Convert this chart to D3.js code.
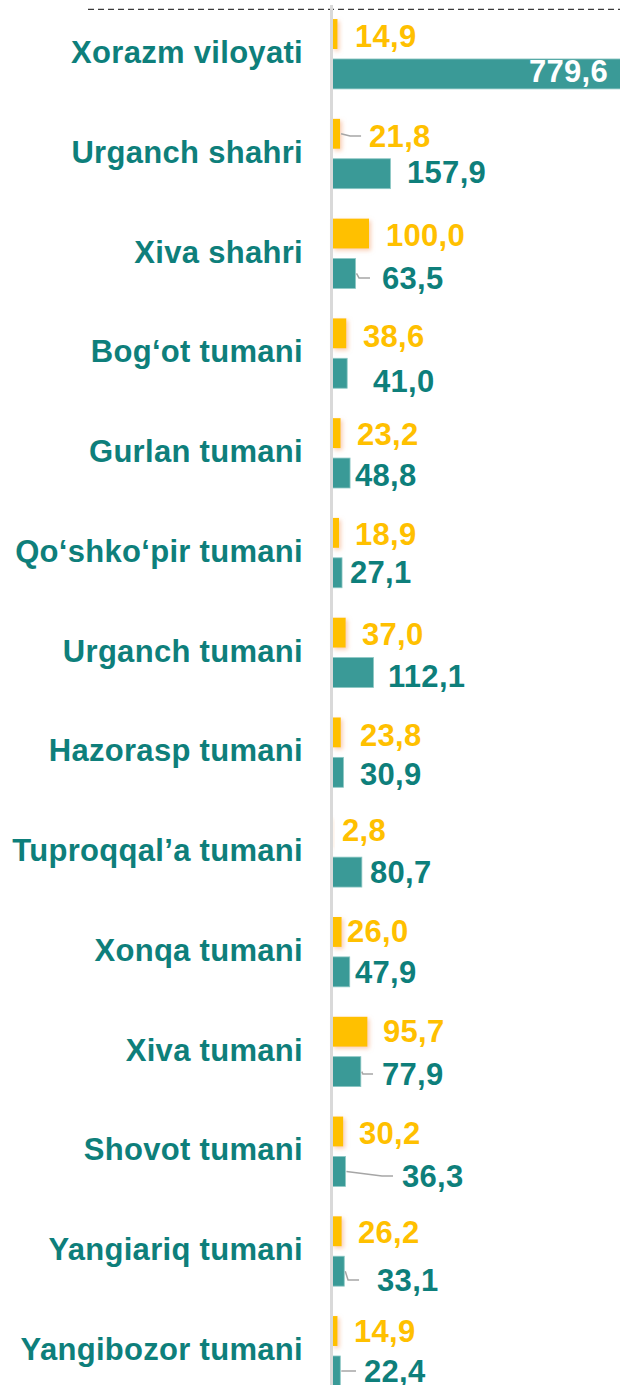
<!DOCTYPE html>
<html>
<head>
<meta charset="utf-8">
<script src="https://cdn.jsdelivr.net/npm/d3@7"></script>
<style>
  html, body { margin: 0; padding: 0; background: #ffffff; }
  svg { display: block; }
  text { font-family: "Liberation Sans", Arial, sans-serif; font-weight: bold; }
</style>
</head>
<body>
<svg id="chart" width="620" height="1385"></svg>
<script>
// Regions and districts
const categories = [
  "Xorazm viloyati", "Urganch shahri", "Xiva shahri", "Bog‘ot tumani",
  "Gurlan tumani", "Qo‘shko‘pir tumani", "Urganch tumani", "Hazorasp tumani",
  "Tuproqqal’a tumani", "Xonqa tumani", "Xiva tumani", "Shovot tumani",
  "Yangiariq tumani", "Yangibozor tumani"
];

// First series (yellow)
const yellowValues = [14.9, 21.8, 100.0, 38.6, 23.2, 18.9, 37.0, 23.8, 2.8, 26.0, 95.7, 30.2, 26.2, 14.9];

// Second series (teal)
const tealValues = [779.6, 157.9, 63.5, 41.0, 48.8, 27.1, 112.1, 30.9, 80.7, 47.9, 77.9, 36.3, 33.1, 22.4];

// Label placement per row: [gap after bar end, vertical nudge, leader gap (0 = no leader)]
const yellowLabelPos = [
  [17.5, 1.8, 0], [29, 2.3, 8], [17, 1.5, 0], [16.7, 2.7, 0], [16.4, 1, 0],
  [16, 1.2, 0], [16.3, 1.5, 0], [19.2, 2.7, 0], [9, -2.1, 0], [5.4, -0.8, 0],
  [15.6, -0.6, 0], [15.8, 1.6, 0], [16.3, 0.9, 0], [16.5, 0.1, 0]
];
const tealLabelPos = [
  [-12, -3.2, 0], [16.6, -1.4, 0], [26.5, 4.5, 12], [25.8, 7.7, 0], [4.9, 2, 0],
  [8, -0.8, 0], [14.5, 3.5, 0], [16.6, 1.7, 0], [8.1, -0.1, 0], [5.3, 0.2, 0],
  [21.2, 2.4, 9], [56.6, 4.6, 9], [32.8, 8.9, 18], [23.7, 0.1, 8]
];

const W = 620, H = 1385;
const yellow = "#FFC000";
const tealBar = "#3A9A97";
const tealText = "#0E7F7B";
const fontSize = 31;

const svg = d3.select("#chart");

const defs = svg.append("defs");
const glow = defs.append("filter").attr("id", "glow")
  .attr("x", "-50%").attr("y", "-30%").attr("width", "250%").attr("height", "170%");
glow.append("feGaussianBlur").attr("in", "SourceAlpha").attr("stdDeviation", 2.2).attr("result", "blur");
glow.append("feOffset").attr("in", "blur").attr("dx", 2).attr("dy", 2).attr("result", "off");
glow.append("feFlood").attr("flood-color", "#F4A77A").attr("flood-opacity", 0.55);
glow.append("feComposite").attr("in2", "off").attr("operator", "in").attr("result", "shadow");
const merge = glow.append("feMerge");
merge.append("feMergeNode").attr("in", "shadow");
merge.append("feMergeNode").attr("in", "SourceGraphic");

const clip = defs.append("clipPath").attr("id", "plotClip");
clip.append("rect").attr("x", 0).attr("y", 0).attr("width", W).attr("height", H);

const x = d3.scaleLinear().domain([0, 800]).range([332, 332 + 296]);

const y = d3.scaleBand()
  .domain(categories)
  .range([4.1, 4.1 + 99.77 * categories.length])
  .paddingInner(0).paddingOuter(0);

const sub = d3.scaleBand()
  .domain(["yellow", "teal"])
  .range([0, y.bandwidth()])
  .paddingInner(0.25)
  .paddingOuter(0.375);

const fmt = v => d3.format(".1f")(v).replace(".", ",");

const rows = categories.map((c, i) => ({
  cat: c, yv: yellowValues[i], tv: tealValues[i],
  yp: yellowLabelPos[i], tp: tealLabelPos[i]
}));

// Top dashed rule
svg.append("line")
  .attr("x1", 88).attr("x2", W).attr("y1", 9.3).attr("y2", 9.3)
  .attr("stroke", "#3a3a3a").attr("stroke-width", 1.3)
  .attr("stroke-dasharray", "6,4");

const plot = svg.append("g").attr("clip-path", "url(#plotClip)");

// Category labels
svg.append("g").selectAll("text")
  .data(rows).join("text")
  .attr("x", 303)
  .attr("y", d => y(d.cat) + y.bandwidth() / 2 + 9)
  .attr("text-anchor", "end")
  .attr("fill", tealText)
  .attr("font-size", fontSize)
  .attr("letter-spacing", 0.3)
  .text(d => d.cat);

// Yellow bars
plot.append("g").selectAll("rect")
  .data(rows).join("rect")
  .attr("x", x(0))
  .attr("y", d => y(d.cat) + sub("yellow"))
  .attr("width", d => x(d.yv) - x(0))
  .attr("height", sub.bandwidth())
  .attr("fill", yellow)
  .attr("filter", "url(#glow)");

// Teal bars
plot.append("g").selectAll("rect")
  .data(rows).join("rect")
  .attr("x", x(0))
  .attr("y", d => y(d.cat) + sub("teal"))
  .attr("width", d => x(d.tv) - x(0))
  .attr("height", sub.bandwidth())
  .attr("fill", tealBar)
  .attr("stroke", "#8CC7C4")
  .attr("stroke-width", 0.8);

// Axis line
svg.append("line")
  .attr("x1", 331.5).attr("x2", 331.5).attr("y1", 5).attr("y2", H)
  .attr("stroke", "#D9D9D9").attr("stroke-width", 3);

const capMid = fontSize * 0.358;

function leader(g, barEnd, barMid, labelX, labelMid, gap) {
  const ex = labelX - gap;
  const kx = Math.max(barEnd + 2, ex - 11);
  g.append("path")
    .attr("d", d3.line()([[barEnd + 1, barMid], [kx, labelMid], [ex, labelMid]]))
    .attr("fill", "none")
    .attr("stroke", "#A6A6A6")
    .attr("stroke-width", 1.5);
}

const leaders = svg.append("g");
const labels = svg.append("g");

rows.forEach(d => {
  // yellow value label
  const yEnd = x(d.yv);
  const yMid = y(d.cat) + sub("yellow") + sub.bandwidth() / 2;
  const ylx = yEnd + d.yp[0];
  const yly = yMid + capMid + d.yp[1];
  if (d.yp[2]) leader(leaders, yEnd, yMid, ylx, yly - capMid, d.yp[2]);
  labels.append("text")
    .attr("x", ylx).attr("y", yly)
    .attr("fill", yellow).attr("font-size", fontSize).attr("letter-spacing", 0.3)
    .text(fmt(d.yv));

  // teal value label
  const tEnd = x(d.tv);
  const tMid = y(d.cat) + sub("teal") + sub.bandwidth() / 2;
  const inside = d.tp[0] < 0;
  const tlx = inside ? Math.min(tEnd, W) + d.tp[0] : tEnd + d.tp[0];
  const tly = tMid + capMid + d.tp[1];
  if (d.tp[2]) leader(leaders, tEnd, tMid, tlx, tly - capMid, d.tp[2]);
  labels.append("text")
    .attr("x", tlx).attr("y", tly)
    .attr("text-anchor", inside ? "end" : "start")
    .attr("fill", inside ? "#ffffff" : tealText)
    .attr("font-size", fontSize).attr("letter-spacing", 0.3)
    .text(fmt(d.tv));
});
</script>
</body>
</html>
